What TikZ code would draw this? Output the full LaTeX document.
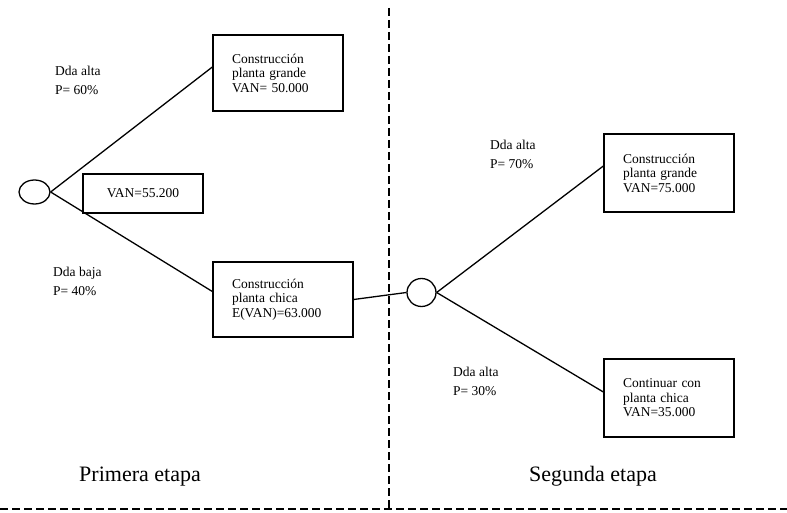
\documentclass[tikz,border=0pt]{standalone}
\usepackage{fontspec}
\setmainfont{Liberation Serif}
\usetikzlibrary{shapes.geometric}

\begin{document}
\begin{tikzpicture}[x=1pt, y=-1pt,
    caja/.style={draw, line width=1.3pt, align=left, inner xsep=19pt, inner ysep=2pt, font=\fontsize{13.5}{14.5}\selectfont},
    nodo/.style={draw, ellipse, line width=1.3pt, inner sep=0pt},
    prob/.style={anchor=north west, align=left, inner sep=0pt, font=\fontsize{13.5}{19}\selectfont},
    etapa/.style={anchor=base, inner sep=0pt, font=\fontsize{22}{26}\selectfont},
    rama/.style={line width=1.3pt},
    corte/.style={line width=1.6pt, dash pattern=on 8pt off 4pt}]
    \useasboundingbox (0,0) rectangle (787,513);

    % Primera etapa
    \node[nodo, minimum width=31pt, minimum height=24pt] (n0) at (34.5,192) {};
    \node[caja, minimum width=130pt, minimum height=76pt, text width=92pt] (grande1) at (278,73) {Construcción\\planta grande\\VAN= 50.000};
    \node[caja, minimum width=140pt, minimum height=75pt, text width=102pt] (chica1) at (283,299.5) {Construcción\\planta chica\\E(VAN)=63.000};
    \node[draw, line width=1.3pt, minimum width=120pt, minimum height=39pt, font=\fontsize{13.5}{14.5}\selectfont] (van) at (143,193.5) {VAN=55.200};
    \node[prob] (p60) at (55,66) {Dda alta\\P= 60\%};
    \node[prob] (p40) at (53,267) {Dda baja\\P= 40\%};

    \draw[rama] (n0.east) -- ([yshift=6pt]grande1.west);
    \draw[rama] (n0.east) -- ([yshift=8pt]chica1.west);

    % Segunda etapa
    \node[nodo, minimum width=29pt, minimum height=28pt] (n1) at (421.5,292.5) {};
    \node[caja, minimum width=130pt, minimum height=78pt, text width=92pt] (grande2) at (669,173) {Construcción\\planta grande\\VAN=75.000};
    \node[caja, minimum width=130pt, minimum height=78pt, text width=92pt] (chica2) at (669,398) {Continuar con\\planta chica\\VAN=35.000};
    \node[prob] (p70) at (490,140) {Dda alta\\P= 70\%};
    \node[prob] (p30) at (453,367) {Dda alta\\P= 30\%};

    \draw[rama] (chica1.east) -- (n1.west);
    \draw[rama] (n1.east) -- ([yshift=7pt]grande2.west);
    \draw[rama] (n1.east) -- ([yshift=6pt]chica2.west);

    % Etapas
    \coordinate (arriba) at (389,8);
    \coordinate (abajo) at (389,509);
    \coordinate (izq) at (0,509);
    \coordinate (der) at (787,509);
    \draw[corte] (arriba) -- (abajo);
    \draw[corte, line width=1.2pt] (izq) -- (der);
    \node[etapa] (etapa1) at (140,481) {Primera etapa};
    \node[etapa] (etapa2) at (593,481) {Segunda etapa};
\end{tikzpicture}
\end{document}
